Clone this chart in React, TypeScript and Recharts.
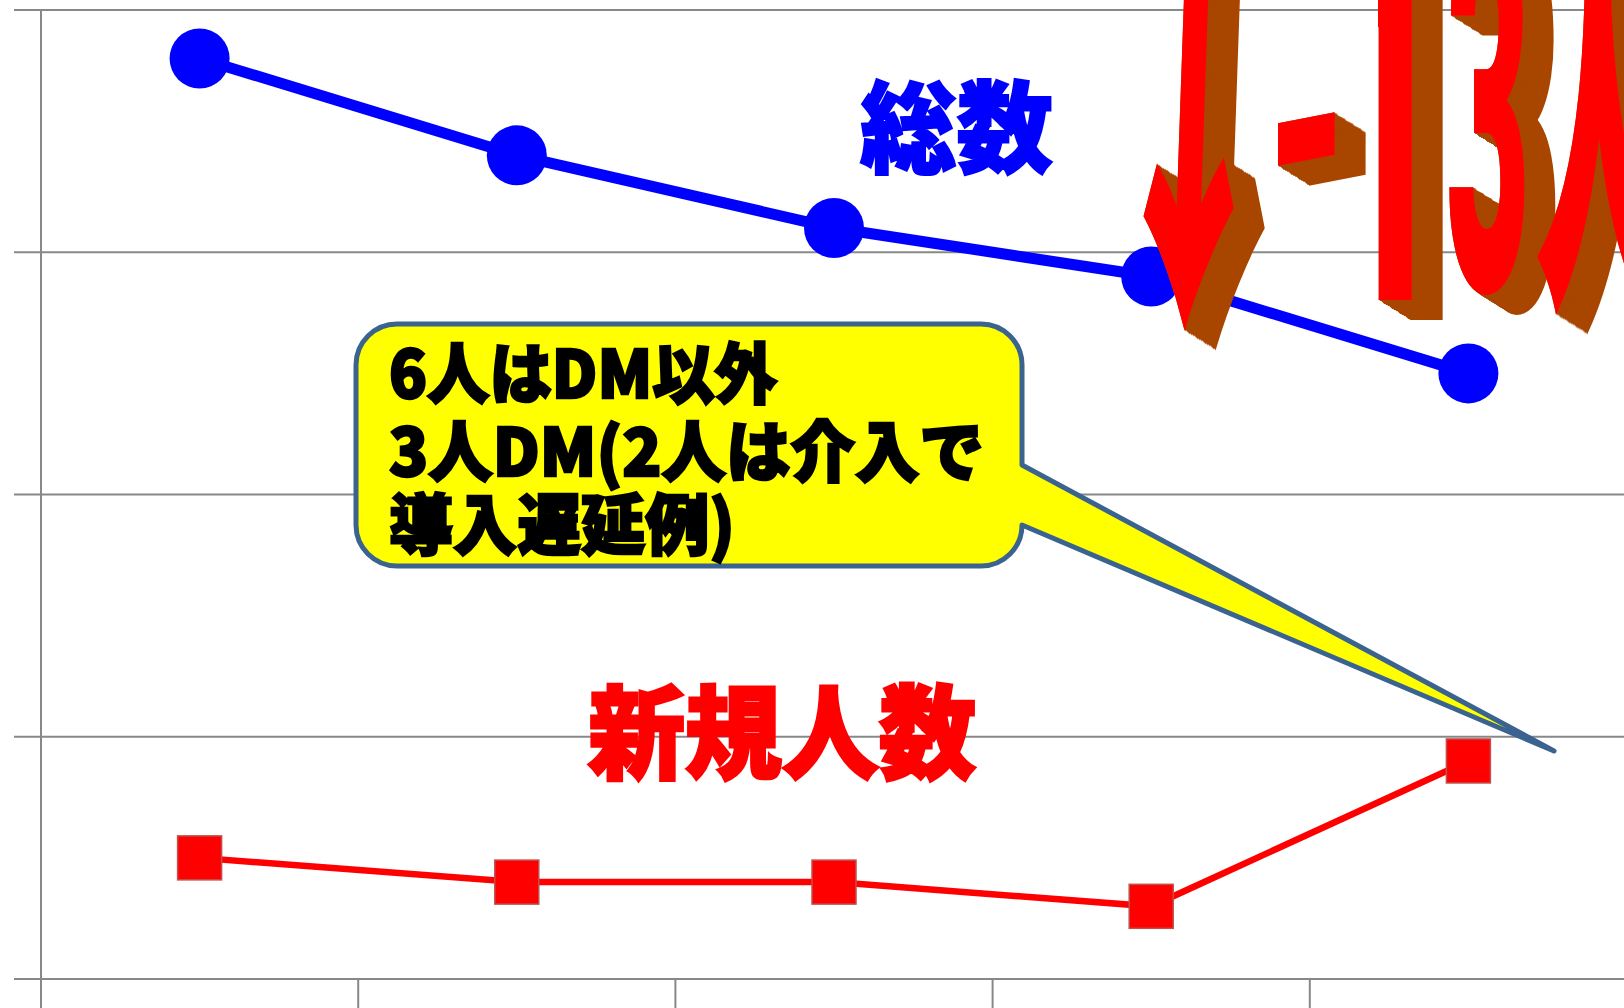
import { LineChart, Line, XAxis, YAxis, CartesianGrid } from 'recharts';

const slots = [0.5, 1.5, 2.5, 3.5, 4.5];
const totalCounts = [38, 34, 31, 29, 25];
const newCounts = [5, 4, 4, 3, 9];
const xTicks = [0, 1, 2, 3, 4, 5];
const yTicks = [0, 10, 20, 30, 40];
const calloutLines = ['6人はDM以外', '3人DM(2人は介入で', '導入遅延例)'];

const chartData = slots.map((slot, i) => ({ slot, total: totalCounts[i], added: newCounts[i] }));

const AXIS_COLOR = '#888888';
const FONT = '"Noto Sans CJK JP", sans-serif';
const DEPTH_STEPS = [1, 2, 4, 8, 16];

const SquareDot = ({ cx, cy, index }: any) => (
  <rect key={index} x={cx - 22} y={cy - 22} width={44} height={44} fill="#ff0000" stroke="#c0504d" strokeWidth={1.5} />
);

// smears the glyph along the depth vector, brown, and keeps the red face on top
function ExtrudeFilter() {
  return (
    <filter id="extrude" filterUnits="userSpaceOnUse" x={1000} y={-300} width={900} height={800} colorInterpolationFilters="sRGB">
      <feFlood floodColor="#a84600" result="brown" />
      <feComposite in="brown" in2="SourceAlpha" operator="in" result="m0" />
      {DEPTH_STEPS.flatMap((d, i) => [
        <feOffset key={`o${i}`} in={`m${i}`} dx={d} dy={d * 0.65} result={`o${i}`} />,
        <feMerge key={`m${i}`} result={`m${i + 1}`}>
          <feMergeNode in={`m${i}`} />
          <feMergeNode in={`o${i}`} />
        </feMerge>,
      ])}
      <feMerge>
        <feMergeNode in={`m${DEPTH_STEPS.length}`} />
        <feMergeNode in="SourceGraphic" />
      </feMerge>
    </filter>
  );
}

function Extruded({ text, x, y, sx, sy, skewY = 0, skewX = 0, sw = 0, font = FONT, clip }: any) {
  return (
    <g filter="url(#extrude)">
      <g clipPath={clip}>
        <text transform={`translate(${x} ${y}) skewY(${skewY}) skewX(${skewX}) scale(${sx} ${sy})`} fill="#ff0000"
          stroke="#ff0000" strokeWidth={sw} fontFamily={font} fontWeight={900} fontSize={100}>{text}</text>
      </g>
    </g>
  );
}

function Annotations() {
  return (
    <svg width={1624} height={1008} style={{ position: 'absolute', left: 0, top: 0 }}>
      <defs>
        <ExtrudeFilter />
        {/* trims the long flag of the digit one */}
        <clipPath id="oneFlag"><rect x={1378} y={-100} width={200} height={500} /></clipPath>
      </defs>
      <path
        d="M397 324 H981 A41 41 0 0 1 1022 365 V465 L1554 751 L1022 525 A41 41 0 0 1 981 566 H397 A41 41 0 0 1 356 525 V365 A41 41 0 0 1 397 324 Z"
        fill="#ffff00" stroke="#3b6390" strokeWidth={5} strokeLinejoin="round"
      />
      {calloutLines.map((line, i) => (
        <text key={line} x={389} y={[398, 476, 549][i]} fontFamily={FONT} fontWeight={900} fontSize={66}
          fill="#000" stroke="#000" strokeWidth={2.5}
          textLength={[388, 595, 346][i]} lengthAdjust="spacingAndGlyphs">{line}</text>
      ))}
      <text x={860} y={165} fontFamily={FONT} fontWeight={900} fontSize={100} fill="#0000ff" stroke="#0000ff" strokeWidth={2}
        textLength={193} lengthAdjust="spacingAndGlyphs">総数</text>
      <text x={588} y={771} fontFamily={FONT} fontWeight={900} fontSize={102} fill="#ff0000" stroke="#ff0000" strokeWidth={3}
        textLength={388} lengthAdjust="spacingAndGlyphs">新規人数</text>

      <Extruded text="↓" x={1096} y={296} sx={1.8} sy={4.3} skewY={-5} skewX={-2} sw={1.5} />
      <Extruded text="-" x={1268} y={245} sx={2.0} sy={3.4} skewY={-11} />
      <Extruded text="1" x={1330} y={300} sx={2.0} sy={5.2} font="Roboto" clip="url(#oneFlag)" />
      <Extruded text="3" x={1446} y={290} sx={1.45} sy={5.2} font="Roboto" />
      <Extruded text="人" x={1540} y={269} sx={1.2} sy={4.0} sw={4} />
    </svg>
  );
}

export default function App() {
  return (
    <div style={{ position: 'fixed', left: 0, top: 0, width: 1624, height: 1008, overflow: 'hidden', background: '#fff' }}>
      <LineChart width={1641} height={1008} data={chartData} margin={{ top: 10, right: 14, left: 0, bottom: 0 }}>
        <CartesianGrid vertical={false} stroke={AXIS_COLOR} strokeWidth={2} />
        <XAxis dataKey="slot" type="number" domain={[0, 5]} ticks={xTicks} height={29} tickSize={30}
          tickFormatter={() => ''} stroke={AXIS_COLOR} strokeWidth={2} />
        <YAxis domain={[0, 40]} ticks={yTicks} width={41} tickSize={27}
          tickFormatter={() => ''} stroke={AXIS_COLOR} strokeWidth={2} />
        <Line dataKey="total" stroke="#0000ff" strokeWidth={11} isAnimationActive={false}
          dot={{ r: 30, fill: '#0000ff', stroke: '#0000ff', strokeWidth: 0 }} />
        <Line dataKey="added" stroke="#ff0000" strokeWidth={6.5} isAnimationActive={false} dot={<SquareDot />} />
      </LineChart>
      <Annotations />
    </div>
  );
}
